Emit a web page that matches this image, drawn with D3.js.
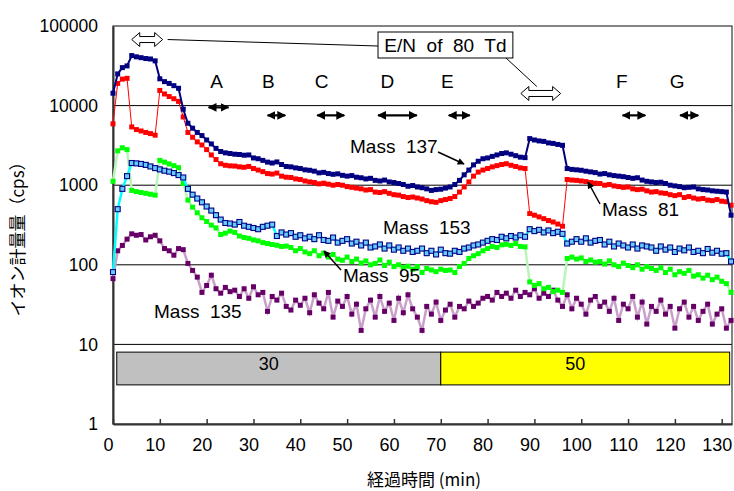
<!DOCTYPE html>
<html><head><meta charset="utf-8">
<script src="https://cdn.jsdelivr.net/npm/d3@7/dist/d3.min.js"></script>
<style>body{margin:0;background:#fff}svg{display:block}</style>
</head><body>
<svg id="c" width="734" height="491"></svg>
<script>
// ---- data ----
const times = [0,1,2,3,4,5,6,7,8,9,10,11,12,13,14,15,16,17,18,19,20,21,22,23,24,25,26,27,28,29,30,31,32,33,34,35,36,37,38,39,40,41,42,43,44,45,46,47,48,49,50,51,52,53,54,55,56,57,58,59,60,61,62,63,64,65,66,67,68,69,70,71,72,73,74,75,76,77,78,79,80,81,82,83,84,85,86,87,88,89,90,91,92,93,94,95,96,97,98,99,100,101,102,103,104,105,106,107,108,109,110,111,112,113,114,115,116,117,118,119,120,121,122,123,124,125,126,127,128,129,130,131,132];
const mass137 = [14300,25000,30000,31500,42500,41000,40000,39000,38500,36500,21700,20000,19000,17800,16500,9000,6000,5200,4600,4200,3700,3300,2900,2650,2550,2500,2450,2430,2380,2400,2200,2150,2050,1950,1900,1960,1820,1720,1700,1650,1620,1560,1540,1500,1430,1450,1400,1370,1390,1330,1300,1320,1260,1240,1200,1220,1150,1130,1160,1100,1080,1050,1020,970,990,950,930,900,860,880,890,920,950,1020,1150,1350,1550,1800,2000,2150,2200,2300,2400,2500,2550,2450,2350,2250,2220,3850,3700,3600,3550,3400,3350,3250,3170,1620,1580,1560,1540,1500,1470,1440,1380,1400,1350,1320,1300,1280,1250,1220,1240,1160,1120,1100,1080,1090,1050,1000,980,960,930,940,950,900,880,870,850,840,830,820,420];
const mass81 = [5900,19000,21500,22000,5400,5000,4800,4600,4450,4250,15500,14000,13000,12200,11300,7200,4600,4000,3500,3200,2800,2400,2100,1860,1780,1750,1740,1700,1680,1720,1620,1550,1480,1400,1380,1420,1300,1260,1250,1200,1180,1130,1100,1080,1040,1060,1030,1000,1020,1000,960,940,920,900,870,880,820,810,830,790,760,750,720,700,710,690,670,640,620,610,640,660,680,720,820,950,1100,1300,1460,1550,1620,1700,1760,1820,1860,1780,1720,1650,1620,440,420,400,380,360,345,325,305,1180,1160,1150,1130,1110,1080,1060,1050,1000,1020,980,960,940,950,900,880,890,850,820,830,800,790,760,740,760,700,720,690,670,680,650,640,660,630,620,560];
const mass153 = [81,500,900,1300,1900,1880,1850,1800,1720,1640,1580,1520,1480,1420,1340,1250,900,760,680,610,540,480,420,370,335,330,320,345,310,300,290,280,300,310,320,230,255,240,250,225,235,215,225,210,235,205,200,220,190,200,210,185,195,175,190,165,170,180,160,175,155,165,150,160,145,150,160,140,150,135,155,140,138,150,145,160,165,175,180,190,200,210,205,225,215,230,220,235,225,280,265,275,255,270,250,260,245,185,195,210,195,215,190,200,205,180,195,170,185,175,165,180,160,175,170,165,150,170,155,165,145,160,152,165,145,150,140,158,142,150,138,140,110];
const mass95 = [1120,2700,2950,2800,860,830,810,790,770,750,2050,1950,1850,1760,1660,1050,650,530,450,390,350,315,290,240,250,265,255,230,220,215,205,200,190,185,180,176,170,172,165,150,160,145,138,150,130,140,125,135,118,114,125,110,118,105,112,100,104,115,98,108,95,100,92,96,88,95,80,90,86,82,88,85,86,80,95,104,120,130,138,150,160,170,165,178,181,175,185,170,168,61,55,58,50,52,46,48,45,120,125,118,122,110,115,108,110,102,112,100,95,105,98,92,100,88,95,90,85,92,80,88,75,82,78,85,72,75,68,74,65,70,62,58,45];
const mass135 = [67,150,175,210,245,235,240,205,225,235,200,160,150,132,160,155,104,85,70,45,55,74,50,44,52,46,48,40,50,38,53,42,45,26,40,36,44,30,27,36,31,38,25,42,33,28,45,22,35,30,40,24,32,15,28,36,22,40,26,33,20,38,25,42,28,22,15,30,24,34,20,27,32,22,30,28,35,30,33,38,40,36,45,40,44,38,48,40,45,42,50,38,44,40,48,36,30,42,28,38,32,24,36,40,30,34,26,38,20,32,28,40,22,34,18,30,26,36,24,30,16,28,34,22,30,20,26,32,18,24,28,16,20];

const xTickValues = [0,10,20,30,40,50,60,70,80,90,100,110,120,130];
const yTickValues = [1,10,100,1000,10000,100000];
const periodLabels = ["A","B","C","D","E","F","G"];
const periodStart = [20.2,32.8,43.4,56.4,71.5,108.6,120.9];
const periodEnd   = [24.9,37.0,49.6,65.1,76.4,113.9,125.2];
const hiEnStart = [4.0,87.1];
const hiEnEnd = [10.6,95.6];
const bandLabels = ["30","50"];
const bandStart = [0.8,70];
const bandEnd = [70,131.7];

// ---- layout ----
const svg = d3.select("#c");
const L = 113, R = 732, T = 26, B = 424;
const x = d3.scaleLinear().domain([0,132.2]).range([L,R]);
const y = d3.scaleLog().domain([1,100000]).range([B,T]);
const narrow = "'Liberation Sans Narrow','Arial Narrow','Liberation Sans',Arial,sans-serif";
const sans = "'Liberation Sans',Arial,sans-serif";

const defs = svg.append("defs");
defs.append("marker").attr("id","ah").attr("viewBox","0 0 10 10").attr("refX",9).attr("refY",5)
  .attr("markerWidth",4).attr("markerHeight",4).attr("orient","auto-start-reverse")
  .attr("markerUnits","strokeWidth")
  .append("path").attr("d","M0,0L10,5L0,10z").attr("fill","#000");
defs.append("marker").attr("id","ah2").attr("viewBox","0 0 10 10").attr("refX",9).attr("refY",5)
  .attr("markerWidth",9).attr("markerHeight",7).attr("orient","auto")
  .attr("markerUnits","userSpaceOnUse")
  .append("path").attr("d","M0,0L10,5L0,10z").attr("fill","#000");

// gridlines
svg.append("g").selectAll("line").data([10,100,1000,10000]).join("line")
  .attr("x1",L).attr("x2",R).attr("y1",d=>y(d)).attr("y2",d=>y(d))
  .attr("stroke","#000").attr("stroke-width",1);
// frame
svg.append("rect").attr("x",L).attr("y",T).attr("width",R-L).attr("height",B-T)
  .attr("fill","none").attr("stroke","#333").attr("stroke-width",1.2);

// bands
const bandColors = ["#c0c0c0","#ffff00"];
const bandTop = 8.0, bandBot = 3.1;
const bg = svg.append("g");
bandLabels.forEach((lab,i)=>{
  bg.append("rect").attr("x",x(bandStart[i])).attr("y",y(bandTop))
    .attr("width",x(bandEnd[i])-x(bandStart[i])).attr("height",y(bandBot)-y(bandTop))
    .attr("fill",bandColors[i]).attr("stroke","#000").attr("stroke-width",1);
  bg.append("text").attr("x",(x(bandStart[i])+x(bandEnd[i]))/2 - 10).attr("y",y(bandTop)+18)
    .attr("text-anchor","middle").attr("font-family",narrow).attr("font-size",18).text(lab);
});

// axes
const xAxis = svg.append("g").attr("transform",`translate(0,${B})`)
  .call(d3.axisBottom(x).tickValues(xTickValues).tickSize(-5).tickSizeOuter(0).tickPadding(14));
xAxis.select(".domain").attr("stroke","#333").attr("stroke-width",2);
xAxis.selectAll(".tick line").attr("stroke","#333").attr("stroke-width",1.5);
xAxis.selectAll("text").attr("font-family",narrow).attr("font-size",18).attr("dx",-5).attr("fill","#000");

const yAxis = svg.append("g").attr("transform",`translate(${L},0)`)
  .call(d3.axisLeft(y).tickValues(yTickValues).tickFormat(d3.format("d")).tickSize(0).tickPadding(15));
yAxis.select(".domain").attr("stroke","#333").attr("stroke-width",2);
yAxis.selectAll("text").attr("font-family",sans).attr("font-size",17.5).attr("fill","#000");

// axis titles
svg.append("text").attr("x",424).attr("y",486).attr("text-anchor","middle")
  .attr("font-family","'Noto Sans CJK JP',sans-serif").attr("font-size",17).text("経過時間 (min)");
svg.append("text").attr("transform","translate(24,235) rotate(-90)").attr("text-anchor","middle")
  .attr("font-family","'Noto Sans CJK JP',sans-serif").attr("font-size",17).text("イオン計量量（cps）");

// series
const series = [
  {name:"Mass 135", v:mass135, line:"#c9a0c9", lw:2.5, fill:"#660066", stroke:"none", ms:5},
  {name:"Mass 95",  v:mass95,  line:"#b9f5b9", lw:2.5, fill:"#00ff00", stroke:"none", ms:5},
  {name:"Mass 153", v:mass153, line:"#00ffff", lw:2.5, fill:"#66ccff", stroke:"#000080", ms:5},
  {name:"Mass 81",  v:mass81,  line:"#ff0000", lw:1,   fill:"#ff0000", stroke:"none", ms:5},
  {name:"Mass 137", v:mass137, line:"#000080", lw:2,   fill:"#000080", stroke:"none", ms:5}
];
const line = d3.line().x(d=>x(d[0])).y(d=>y(d[1]));
series.forEach(s=>{
  const pts = times.map((t,i)=>[t,s.v[i]]);
  const g = svg.append("g");
  g.append("path").attr("d",line(pts)).attr("fill","none").attr("stroke",s.line).attr("stroke-width",s.lw);
  g.selectAll("rect").data(pts).join("rect")
    .attr("x",d=>x(d[0])-s.ms/2).attr("y",d=>y(d[1])-s.ms/2).attr("width",s.ms).attr("height",s.ms)
    .attr("fill",s.fill).attr("stroke",s.stroke).attr("stroke-width",s.stroke==="none"?0:1.1);
});

// period arrows
const pg = svg.append("g");
const levelA = 9500, levelOther = 7540, labelLevel = 16500;
const labelShift = [-2,-8,-9,-10,-12,-12,-12];
periodLabels.forEach((lab,i)=>{
  const lv = i===0 ? levelA : levelOther;
  pg.append("line").attr("x1",x(periodStart[i])+1).attr("x2",x(periodEnd[i])-1)
    .attr("y1",y(lv)).attr("y2",y(lv)).attr("stroke","#000").attr("stroke-width",2.2)
    .attr("marker-start","url(#ah)").attr("marker-end","url(#ah)");
  pg.append("text").attr("x",(x(periodStart[i])+x(periodEnd[i]))/2 + labelShift[i]).attr("y",y(labelLevel))
    .attr("text-anchor","middle").attr("font-family",narrow).attr("font-size",19).text(lab);
});

// hollow arrows (E/N of 80 Td)
const hiLevels = [67600,14200];
hiEnStart.forEach((s,i)=>{
  const x0 = x(s), x1 = x(hiEnEnd[i]), yc = y(hiLevels[i]), h = 8;
  const p = [[x0,yc],[x0+h,yc-7],[x0+h,yc-3],[x1-h,yc-3],[x1-h,yc-7],[x1,yc],[x1-h,yc+7],[x1-h,yc+3],[x0+h,yc+3],[x0+h,yc+7]];
  svg.append("path").attr("d","M"+p.map(q=>q.join(",")).join("L")+"Z")
    .attr("fill","#fff").attr("stroke","#000").attr("stroke-width",1);
});
// callout box
const bx0 = x(56.6), bx1 = x(85.4), by0 = 32, by1 = 58;
svg.append("line").attr("x1",x(hiEnEnd[0])+5).attr("y1",y(hiLevels[0])).attr("x2",bx0).attr("y2",46)
  .attr("stroke","#000").attr("stroke-width",1);
svg.append("line").attr("x1",bx0+128).attr("y1",by1).attr("x2",x(hiEnStart[1])+16).attr("y2",y(hiLevels[1])-7)
  .attr("stroke","#000").attr("stroke-width",1);
svg.append("rect").attr("x",bx0).attr("y",by0).attr("width",bx1-bx0).attr("height",by1-by0)
  .attr("fill","#fff").attr("stroke","#000").attr("stroke-width",1);
svg.append("text").attr("x",(bx0+bx1)/2).attr("y",52).attr("text-anchor","middle")
  .attr("font-family",narrow).attr("font-size",19).style("white-space","pre").text("E/N  of  80  Td");

// series labels
const labs = [
  {t:"Mass  137", x:350, y:153, a:[438,152,464,164]},
  {t:"Mass  81",  x:602, y:216, a:[600,204,588,182]},
  {t:"Mass  153", x:383, y:234, a:null},
  {t:"Mass  95",  x:343, y:282, a:[341,270,324,251]},
  {t:"Mass  135", x:154, y:318, a:null}
];
labs.forEach(l=>{
  svg.append("text").attr("x",l.x).attr("y",l.y).attr("font-family",narrow).attr("font-size",19)
    .style("white-space","pre").text(l.t);
  if(l.a) svg.append("line").attr("x1",l.a[0]).attr("y1",l.a[1]).attr("x2",l.a[2]).attr("y2",l.a[3])
    .attr("stroke","#000").attr("stroke-width",1.5).attr("marker-end","url(#ah2)");
});
</script>
</body></html>
